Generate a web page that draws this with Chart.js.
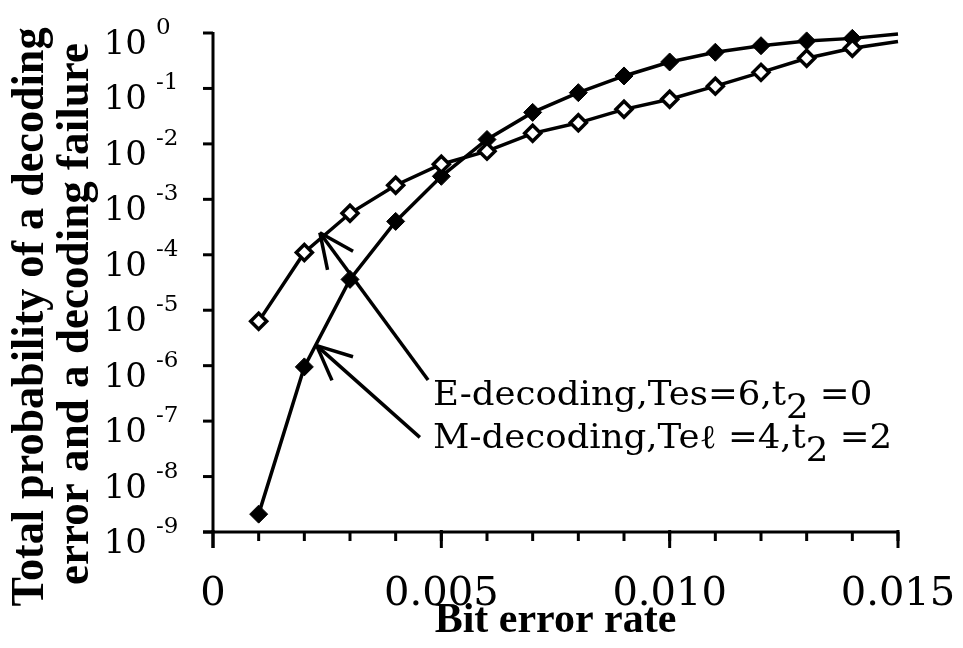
<!DOCTYPE html>
<html>
<head>
<meta charset="utf-8">
<script src="https://cdn.jsdelivr.net/npm/chart.js@4.4.0/dist/chart.umd.min.js"></script>
<style>
html,body{margin:0;padding:0;background:#fff;}
canvas{display:block;}
</style>
</head>
<body>
<canvas id="c" width="963" height="648"></canvas>
<script>
// ---- data ----
const bitErrorRate = [0.001,0.002,0.003,0.004,0.005,0.006,0.007,0.008,0.009,0.010,0.011,0.012,0.013,0.014,0.015];
const eDecoding = [6.3e-6,1.1e-4,5.6e-4,1.8e-3,4.3e-3,7.4e-3,1.55e-2,2.4e-2,4.2e-2,6.4e-2,0.11,0.195,0.35,0.53,0.70];
const mDecoding = [2.1e-9,9.5e-7,3.6e-5,4.0e-4,2.6e-3,1.2e-2,3.7e-2,8.4e-2,0.168,0.30,0.45,0.59,0.72,0.80,0.96];
const xTickValues = [0,0.005,0.010,0.015];
const xTickLabels = ['0','0.005','0.010','0.015'];
const xMinorStep = 0.001;
const yTickExponents = [0,-1,-2,-3,-4,-5,-6,-7,-8,-9];
const xTitle = 'Bit error rate';
const yTitleLines = ['Total probability of a decoding','error and a decoding failure'];
const seriesNames = ['E-decoding,Tes=6,t2 =0','M-decoding,Teℓ =4,t2 =2'];
// annotation labels (text runs: [text, isSubscript]) with arrow anchors in data units
const labelRuns = [
  [['E-decoding,Tes=6,t',false],['2',true],[' =0',false]],
  [['M-decoding,Teℓ =4,t',false],['2',true],[' =2',false]]
];
const labelAnchors = [[0.00482, Math.pow(10,-6.71)], [0.00482, Math.pow(10,-7.486)]];
const arrowTips  = [[0.00234, 2.5e-4], [0.00227, 2.3e-6]];
const arrowTails = [[0.00471, 5.5e-7], [0.00453, 5.1e-8]];

const W = 963, H = 648;

const decor = {
  id: 'decor',
  beforeDraw(chart){
    const ctx = chart.ctx;
    ctx.save(); ctx.fillStyle = '#fff'; ctx.fillRect(0,0,W,H); ctx.restore();
  },
  afterDraw(chart){
    const ctx = chart.ctx, a = chart.chartArea, xs = chart.scales.x, ys = chart.scales.y;
    ctx.save();
    ctx.strokeStyle = '#000'; ctx.fillStyle = '#000'; ctx.lineWidth = 3; ctx.lineCap = 'butt';
    const seg = (x1,y1,x2,y2)=>{ctx.beginPath();ctx.moveTo(x1,y1);ctx.lineTo(x2,y2);ctx.stroke();};
    // axes
    seg(a.left-10, a.bottom, a.right+1, a.bottom);
    seg(a.left, a.top-1, a.left, a.bottom+16);
    // y ticks
    yTickExponents.forEach(e=>{ const y = ys.getPixelForValue(Math.pow(10,e)); seg(a.left-10,y,a.left,y); });
    // x minor ticks
    for (let v = xs.min + xMinorStep; v <= xs.max + 1e-9; v += xMinorStep){
      const x = xs.getPixelForValue(v); seg(x, a.bottom, x, a.bottom+9);
    }
    xTickValues.forEach(v=>{ const x = xs.getPixelForValue(v); seg(x, a.bottom-2, x, a.bottom+16); });
    // y tick labels 10^e
    yTickExponents.forEach(e=>{
      const y = ys.getPixelForValue(Math.pow(10,e));
      ctx.font = '34px "DejaVu Serif"'; ctx.textAlign = 'right'; ctx.textBaseline = 'alphabetic';
      ctx.fillText('10', a.left-66, y+21);
      ctx.font = '23px "DejaVu Serif"'; ctx.textAlign = 'left';
      ctx.fillText(String(e), a.left-57, y+1);
    });
    // y title (two rotated bold lines, fitted to reference length)
    const yT = [[43, 317, 579], [88, 314, 542]];
    ctx.font = 'bold 47px "Liberation Serif"'; ctx.textAlign = 'center'; ctx.textBaseline = 'alphabetic';
    yTitleLines.forEach((t,i)=>{
      const w = ctx.measureText(t).width;
      ctx.save(); ctx.translate(yT[i][0], yT[i][1]); ctx.rotate(-Math.PI/2);
      ctx.scale(yT[i][2]/w, 1); ctx.fillText(t, 0, 0); ctx.restore();
    });
    // annotation labels
    ctx.font = '33px "DejaVu Serif"'; ctx.textAlign = 'left'; ctx.textBaseline = 'alphabetic';
    const runW = runs => runs.reduce((s,r)=>s+ctx.measureText(r[0]).width, 0);
    const sx = 459 / runW(labelRuns[1]);
    labelRuns.forEach((runs,i)=>{
      const x0 = xs.getPixelForValue(labelAnchors[i][0]);
      const y0 = ys.getPixelForValue(labelAnchors[i][1]);
      ctx.save(); ctx.translate(x0, y0); ctx.scale(sx,1);
      let cx = 0;
      runs.forEach(r=>{ ctx.fillText(r[0], cx, r[1] ? 13 : 0); cx += ctx.measureText(r[0]).width; });
      ctx.restore();
    });
    // arrows
    ctx.lineWidth = 3.5;
    arrowTips.forEach((tp,i)=>{
      const tx = xs.getPixelForValue(tp[0]), ty = ys.getPixelForValue(tp[1]);
      const lx = xs.getPixelForValue(arrowTails[i][0]), ly = ys.getPixelForValue(arrowTails[i][1]);
      seg(lx, ly, tx, ty);
      const th = Math.atan2(ly-ty, lx-tx), L = 38, d = 0.43;
      seg(tx, ty, tx + L*Math.cos(th-d), ty + L*Math.sin(th-d));
      seg(tx, ty, tx + L*Math.cos(th+d), ty + L*Math.sin(th+d));
    });
    ctx.restore();
  }
};

const lastIdx = bitErrorRate.length - 1;
new Chart(document.getElementById('c'), {
  type: 'line',
  data: {
    datasets: [
      { label: seriesNames[0], data: bitErrorRate.map((x,i)=>({x, y: eDecoding[i]})),
        borderColor:'#000', borderWidth:3.5, backgroundColor:'#fff', pointBackgroundColor:'#fff',
        pointBorderColor:'#000', pointBorderWidth:3.5, pointStyle:'rectRot',
        pointRadius: c => c.dataIndex === lastIdx ? 0 : 8, tension:0, clip:false },
      { label: seriesNames[1], data: bitErrorRate.map((x,i)=>({x, y: mDecoding[i]})),
        borderColor:'#000', borderWidth:3.5, backgroundColor:'#000', pointBackgroundColor:'#000',
        pointBorderColor:'#000', pointBorderWidth:1, pointStyle:'rectRot',
        pointRadius: c => c.dataIndex === lastIdx ? 0 : 9, tension:0, clip:false }
    ]
  },
  options: {
    responsive:false, devicePixelRatio:1, animation:false,
    layout:{ padding:{ top:33, right:65, bottom:0, left:0 } },
    plugins:{ legend:{display:false}, tooltip:{enabled:false} },
    scales:{
      x:{ type:'linear', min:0, max:0.015,
        afterBuildTicks: s => { s.ticks = xTickValues.map(v=>({value:v})); },
        afterFit: s => { s.height = H - 532; s.paddingLeft = 0; s.paddingRight = 0; },
        ticks:{ autoSkip:false, maxRotation:0, padding:35, color:'#000',
          font:{ family:'DejaVu Serif', size:40, lineHeight:1 },
          callback:(v,i)=>xTickLabels[i] },
        grid:{ display:false }, border:{ display:false },
        title:{ display:true, text:xTitle, color:'#000',
          font:{ family:'Liberation Serif', size:42, weight:'bold', lineHeight:1 },
          padding:{ top:0, bottom:6 } } },
      y:{ type:'logarithmic', min:1e-9, max:1,
        afterFit: s => { s.width = 213; s.paddingTop = 0; s.paddingBottom = 0; },
        ticks:{ display:false }, grid:{ display:false }, border:{ display:false } }
    }
  },
  plugins:[decor]
});
</script>
</body>
</html>
